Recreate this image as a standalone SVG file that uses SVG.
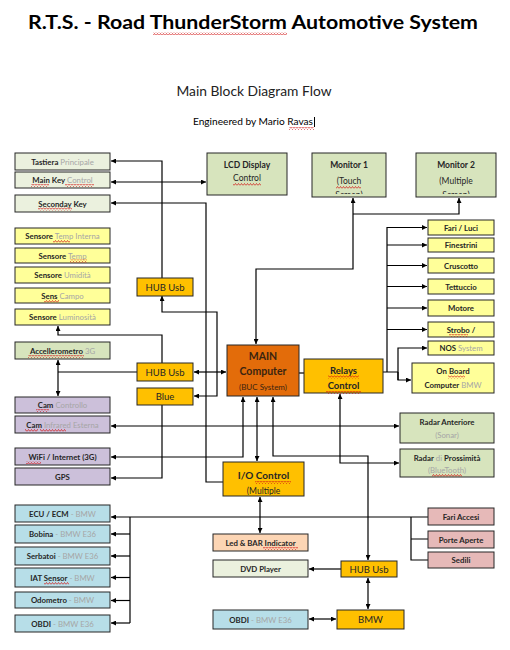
<svg xmlns="http://www.w3.org/2000/svg" width="510" height="650" viewBox="0 0 510 650">
<style>
text{font-family:Lato,"Open Sans","Liberation Sans",sans-serif;fill:#262626}
.t{font-size:7.8px;text-anchor:middle}
.b{font-weight:bold}
.g{fill:#a6a6a6;font-weight:normal}
.m{font-size:8.5px}
.h{font-size:9.5px}
.box{stroke:#262626;stroke-width:1}
.gr{fill:#EBF1DE}.ol{fill:#D7E4BD}.ye{fill:#FFFF99}.go{fill:#FFC000}.or{fill:#E36C0A}
.la{fill:#CCC0DA}.bl{fill:#B7DEE8}.pk{fill:#E6B9B8}.pe{fill:#FCD5B4}
.c path{fill:none;stroke:#000;stroke-width:1.2}
.ar{marker-end:url(#a)}
.ab{marker-start:url(#a);marker-end:url(#a)}
.sq{fill:url(#sq)}
</style>
<defs>
<marker id="a" viewBox="0 0 10 10" refX="10" refY="5" markerWidth="5" markerHeight="5" markerUnits="userSpaceOnUse" orient="auto-start-reverse"><path d="M0,0 L10,5 L0,10 z" fill="#000"/></marker>
<pattern id="sq" width="3" height="3" patternUnits="userSpaceOnUse"><path d="M0,2.5 L1.5,0.5 L3,2.5" fill="none" stroke="#d01010" stroke-width="0.7"/></pattern>
<clipPath id="cm1"><rect x="312" y="153" width="74" height="41"/></clipPath>
<clipPath id="cm2"><rect x="416" y="153" width="80" height="41"/></clipPath>
<clipPath id="cio"><rect x="223" y="462" width="81" height="33"/></clipPath>
</defs>
<rect width="510" height="650" fill="#fff"/>

<g id="header">
<text x="253" y="29" style="font-size:19px;font-weight:bold;fill:#000" text-anchor="middle" textLength="450" lengthAdjust="spacingAndGlyphs">R.T.S. - Road ThunderStorm Automotive System</text>
<rect class="sq" x="153" y="32" width="134" height="3"/>
<text x="254" y="96" style="font-size:13px;fill:#222" text-anchor="middle" textLength="155" lengthAdjust="spacingAndGlyphs">Main Block Diagram Flow</text>
<text x="253" y="125" style="font-size:9px;fill:#000" text-anchor="middle" textLength="120" lengthAdjust="spacingAndGlyphs">Engineered by Mario Ravas</text>
<rect class="sq" x="289" y="127" width="25" height="3"/>
<path d="M314.5,117 V127" stroke="#000" stroke-width="1"/>
</g>

<g class="c" id="connectors">
<path class="ar" d="M162,278 V161 H111"/>
<path class="ab" d="M111,182 H206"/>
<path class="ar" d="M223,482 H206 V203 H111"/>
<path class="ab" d="M353,198 V269 H256 V344"/>
<path class="ar" d="M353,214 H459 V198"/>
<path d="M299,373 H304"/>
<path d="M383,372 H398 M387,372 V227"/>
<path class="ar" d="M387,227.5 H427"/>
<path class="ar" d="M387,245 H427"/>
<path class="ar" d="M387,265.5 H427"/>
<path class="ar" d="M387,286.5 H427"/>
<path class="ar" d="M387,308 H427"/>
<path class="ar" d="M387,329.5 H427"/>
<path class="ar" d="M398,380 V348 H427"/>
<path class="ar" d="M398,372 V380 H411"/>
<path class="ab" d="M194,372 H226"/>
<path class="ar" d="M162,363 V335 H58 V326"/>
<path d="M137,372 H58"/>
<path class="ab" d="M58,360 V396"/>
<path class="ab" d="M162,296 V312 H217 V396 H194"/>
<path class="ar" d="M162,405 V478 H111"/>
<path class="ab" d="M111,426 H399"/>
<path class="ab" d="M111,457 H243 V397"/>
<path class="ab" d="M257,397 V461"/>
<path class="ab" d="M273,397 V456 H368 V560"/>
<path class="ab" d="M340,394 V463 H399"/>
<path class="ar" d="M428,517 H111"/>
<path d="M130,517 V623"/>
<path class="ar" d="M130,534 H111"/>
<path class="ar" d="M130,556 H111"/>
<path class="ar" d="M130,577.5 H111"/>
<path class="ar" d="M130,600.5 H111"/>
<path class="ar" d="M130,623 H111"/>
<path d="M411,517 V560 H428 M411,539 H428"/>
<path class="ab" d="M260,497 V533"/>
<path class="ar" d="M341,569 H309"/>
<path class="ab" d="M368,578 V609"/>
<path class="ab" d="M309,619 H336"/>
</g>

<g id="tastiera"><rect class="box gr" x="15" y="153" width="95" height="17"/><text class="t" x="62.5" y="164.5"><tspan class="b">Tastiera</tspan><tspan class="g"> Principale</tspan></text></g>
<g id="mainkey"><rect class="box gr" x="15" y="172" width="95" height="16"/><text class="t" x="62.5" y="183"><tspan class="b">Main Key</tspan><tspan class="g"> Control</tspan></text><rect class="sq" x="31" y="184" width="18" height="3"/><rect class="sq" x="65" y="184" width="29" height="3"/></g>
<g id="secondary"><rect class="box gr" x="15" y="195" width="95" height="17"/><text class="t b" x="62.5" y="206.5">Seconday Key</text><rect class="sq" x="38" y="207.5" width="34" height="3"/></g>

<g id="lcd"><rect class="box ol" x="207" y="153" width="80" height="42"/><text class="t b m" x="247" y="168">LCD Display</text><text class="t m" x="247" y="181">Control</text><rect class="sq" x="233" y="183" width="28" height="3"/></g>
<g id="monitor1"><rect class="box ol" x="312" y="153" width="74" height="44"/><text class="t b m" x="349" y="168">Monitor 1</text><text class="t m" x="349" y="184">(Touch</text><rect class="sq" x="336" y="186" width="25" height="3"/><text class="t m" x="349" y="198" clip-path="url(#cm1)">Screen)</text></g>
<g id="monitor2"><rect class="box ol" x="416" y="153" width="80" height="44"/><text class="t b m" x="456" y="168">Monitor 2</text><text class="t m" x="456" y="184">(Multiple</text><text class="t m" x="456" y="198" clip-path="url(#cm2)">Screen)</text></g>

<g id="s1"><rect class="box ye" x="15" y="228" width="95" height="16"/><text class="t" x="62.5" y="239"><tspan class="b">Sensore</tspan><tspan class="g"> Temp Interna</tspan></text><rect class="sq" x="53" y="240" width="17" height="3"/></g>
<g id="s2"><rect class="box ye" x="15" y="248" width="95" height="15"/><text class="t" x="62.5" y="258.5"><tspan class="b">Sensore</tspan><tspan class="g"> Temp</tspan></text><rect class="sq" x="70" y="259.5" width="17" height="3"/></g>
<g id="s3"><rect class="box ye" x="15" y="267" width="95" height="16"/><text class="t" x="62.5" y="278"><tspan class="b">Sensore</tspan><tspan class="g"> Umidità</tspan></text></g>
<g id="s4"><rect class="box ye" x="15" y="288" width="95" height="15"/><text class="t" x="62.5" y="298.5"><tspan class="b">Sens</tspan><tspan class="g"> Campo</tspan></text><rect class="sq" x="44" y="299.5" width="15" height="3"/></g>
<g id="s5"><rect class="box ye" x="15" y="309" width="95" height="16"/><text class="t" x="62.5" y="320"><tspan class="b">Sensore</tspan><tspan class="g"> Luminosità</tspan></text></g>

<g id="hub1"><rect class="box go" x="137" y="278" width="56" height="18"/><text class="t h" x="165" y="290.5">HUB Usb</text></g>
<g id="accel"><rect class="box ol" x="15" y="342" width="95" height="17"/><text class="t" x="62.5" y="353.5"><tspan class="b">Accellerometro</tspan><tspan class="g"> 3G</tspan></text><rect class="sq" x="28" y="355" width="56" height="3"/></g>
<g id="hub2"><rect class="box go" x="137" y="363" width="56" height="18"/><text class="t h" x="165" y="375.5">HUB Usb</text></g>
<g id="blue"><rect class="box go" x="137" y="388" width="56" height="17"/><text class="t h" x="165" y="400">Blue</text></g>
<g id="main"><rect class="box or" x="227" y="345" width="72" height="51"/><text class="t b" x="263" y="360" style="font-size:10.5px;fill:#3a2410">MAIN</text><text class="t b" x="263" y="375" style="font-size:10.5px;fill:#3a2410">Computer</text><text class="t" x="263" y="389.5" style="font-size:8px;fill:#3a2410">(BUC System)</text></g>
<g id="relays"><rect class="box go" x="304" y="359" width="79" height="34"/><text class="t b h" x="343.5" y="373.5">Relays</text><text class="t b h" x="343.5" y="389">Control</text><rect class="sq" x="328" y="375.5" width="31" height="3"/><rect class="sq" x="326" y="391" width="35" height="3"/></g>

<g id="cam1"><rect class="box la" x="15" y="397" width="95" height="16"/><text class="t" x="62.5" y="408"><tspan class="b">Cam</tspan><tspan class="g"> Controllo</tspan></text><rect class="sq" x="36" y="409" width="13" height="3"/></g>
<g id="cam2"><rect class="box la" x="15" y="416" width="95" height="17"/><text class="t" x="62.5" y="427.5"><tspan class="b">Cam</tspan><tspan class="g"> Infrared Esterna</tspan></text><rect class="sq" x="25" y="429" width="13" height="3"/><rect class="sq" x="40" y="429" width="26" height="3"/></g>
<g id="wifi"><rect class="box la" x="15" y="448" width="95" height="17"/><text class="t b" x="62.5" y="459.5">WiFi / Internet (3G)</text><rect class="sq" x="26" y="461" width="15" height="3"/></g>
<g id="gps"><rect class="box la" x="15" y="468" width="95" height="17"/><text class="t b" x="62.5" y="479.5">GPS</text></g>

<g id="fari"><rect class="box ye" x="428" y="220" width="66" height="15"/><text class="t b" x="461" y="230.5">Fari / Luci</text></g>
<g id="finestrini"><rect class="box ye" x="428" y="238" width="66" height="14"/><text class="t b" x="461" y="247.8">Finestrini</text></g>
<g id="cruscotto"><rect class="box ye" x="428" y="258" width="66" height="15"/><text class="t b" x="461" y="268.5">Cruscotto</text></g>
<g id="tettuccio"><rect class="box ye" x="428" y="279" width="66" height="15"/><text class="t b" x="461" y="289.5">Tettuccio</text></g>
<g id="motore"><rect class="box ye" x="428" y="300" width="66" height="16"/><text class="t b" x="461" y="311">Motore</text></g>
<g id="strobo"><rect class="box ye" x="428" y="322" width="66" height="15"/><text class="t b" x="461" y="332.5">Strobo /</text><rect class="sq" x="449" y="334" width="19" height="3"/></g>
<g id="nos"><rect class="box ye" x="428" y="341" width="66" height="14"/><text class="t" x="461" y="350.8"><tspan class="b">NOS</tspan><tspan class="g"> System</tspan></text></g>
<g id="onboard"><rect class="box ye" x="412" y="363" width="82" height="30"/><text class="t b" x="453" y="374">On Board</text><rect class="sq" x="448" y="375.5" width="17" height="3"/><text class="t" x="453" y="387.5"><tspan class="b">Computer</tspan><tspan class="g"> BMW</tspan></text></g>

<g id="radar1"><rect class="box ol" x="400" y="413" width="94" height="30"/><text class="t b" x="447" y="425">Radar Anteriore</text><text class="t g" x="447" y="437.5">(Sonar)</text></g>
<g id="radar2"><rect class="box ol" x="400" y="449" width="94" height="28"/><text class="t" x="447" y="460.5"><tspan class="b">Radar</tspan><tspan class="g"> di </tspan><tspan class="b">Prossimità</tspan></text><text class="t g" x="447" y="472.5">(BlueTooth)</text><rect class="sq" x="432" y="474" width="30" height="3"/></g>

<g id="io"><rect class="box go" x="223" y="462" width="81" height="34"/><text class="t b" x="263.5" y="479" style="font-size:10px">I/O Control</text><rect class="sq" x="255" y="481" width="36" height="3"/><text class="t m" x="263.5" y="494" clip-path="url(#cio)">(Multiple</text></g>

<g id="ecu"><rect class="box bl" x="15" y="505" width="95" height="17"/><text class="t" x="62.5" y="516.5"><tspan class="b">ECU / ECM</tspan><tspan class="g"> - BMW</tspan></text></g>
<g id="bobina"><rect class="box bl" x="15" y="525" width="95" height="18"/><text class="t" x="62.5" y="537"><tspan class="b">Bobina</tspan><tspan class="g"> - BMW E36</tspan></text></g>
<g id="serbatoi"><rect class="box bl" x="15" y="547" width="95" height="18"/><text class="t" x="62.5" y="559"><tspan class="b">Serbatoi</tspan><tspan class="g"> - BMW E36</tspan></text></g>
<g id="iat"><rect class="box bl" x="15" y="568" width="95" height="19"/><text class="t" x="62.5" y="580.5"><tspan class="b">IAT Sensor</tspan><tspan class="g"> - BMW</tspan></text><rect class="sq" x="44" y="582" width="25" height="3"/></g>
<g id="odometro"><rect class="box bl" x="15" y="592" width="95" height="16"/><text class="t" x="62.5" y="603"><tspan class="b">Odometro</tspan><tspan class="g"> - BMW</tspan></text></g>
<g id="obdi1"><rect class="box bl" x="15" y="615" width="95" height="17"/><text class="t" x="62.5" y="626.5"><tspan class="b">OBDI</tspan><tspan class="g"> - BMW E36</tspan></text></g>

<g id="fariaccesi"><rect class="box pk" x="428" y="508" width="66" height="17"/><text class="t b" x="461" y="519.5">Fari Accesi</text></g>
<g id="porte"><rect class="box pk" x="428" y="531" width="66" height="17"/><text class="t b" x="461" y="542.5">Porte Aperte</text></g>
<g id="sedili"><rect class="box pk" x="428" y="552" width="66" height="16"/><text class="t b" x="461" y="563">Sedili</text></g>

<g id="led"><rect class="box pe" x="213" y="534" width="95" height="17"/><text class="t b" x="260.5" y="545.5">Led &amp; BAR Indicator</text><rect class="sq" x="263" y="547" width="35" height="3"/></g>
<g id="dvd"><rect class="box gr" x="213" y="560" width="95" height="17"/><text class="t b" x="260.5" y="571.5">DVD Player</text></g>
<g id="hub3"><rect class="box go" x="341" y="561" width="56" height="16"/><text class="t h" x="369" y="572.5">HUB Usb</text></g>
<g id="obdi2"><rect class="box bl" x="213" y="610" width="95" height="19"/><text class="t" x="260.5" y="622.5"><tspan class="b">OBDI</tspan><tspan class="g"> - BMW E36</tspan></text></g>
<g id="bmw"><rect class="box go" x="337" y="610" width="67" height="19"/><text class="t h" x="370.5" y="623">BMW</text></g>
</svg>
